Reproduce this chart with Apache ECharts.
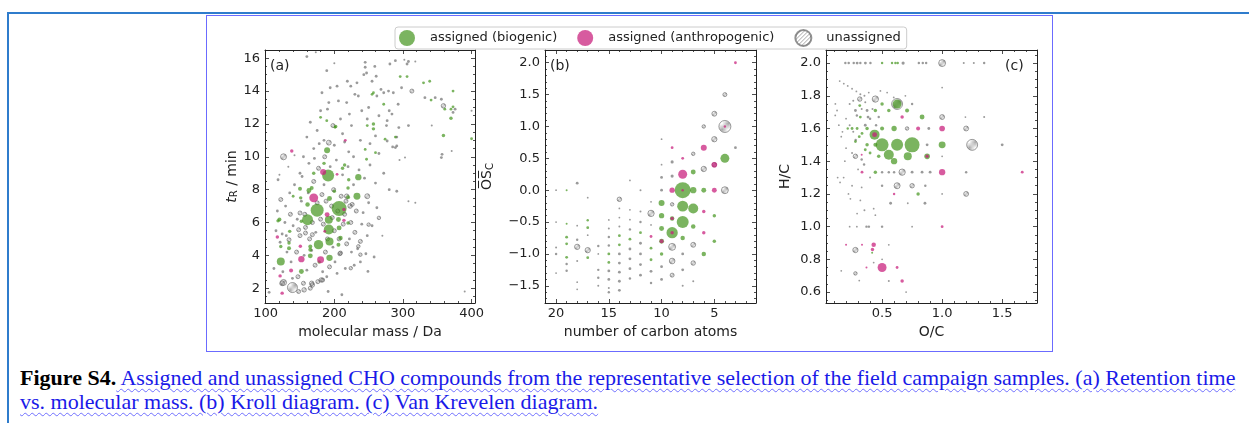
<!DOCTYPE html>
<html>
<head>
<meta charset="utf-8">
<script src="https://cdn.jsdelivr.net/npm/echarts@6.0.0/dist/echarts.min.js"></script>
<style>
  html, body { margin: 0; padding: 0; background: #fff; width: 1249px; height: 423px; overflow: hidden; }
  #page { position: absolute; left: 7px; top: 12px; width: 1260px; height: 430px;
          border-top: 2px solid #2f7ccc; border-left: 2px solid #2f7ccc; }
  #frame { position: absolute; left: 206px; top: 15px; width: 845px; height: 335px; border: 1px solid #6b6bff; }
  #chart { position: absolute; left: 208px; top: 17px; width: 843px; height: 333px; }
  #cap { position: absolute; left: 20px; top: 366px; font-family: "Liberation Serif", serif; font-size: 22px;
         line-height: 24px; white-space: nowrap; color: #000; }
  #cap .lk { color: #1a1ae8; text-decoration: underline wavy #6f6fff 1px; text-underline-offset: 3px; }
</style>
</head>
<body>
<div id="page"></div>
<div id="frame"></div>
<div id="chart"></div>
<div id="cap"><b>Figure S4.</b><span class="lk"> Assigned and unassigned CHO compounds from the representative selection of the field campaign samples. (a) Retention time</span><br><span class="lk">vs. molecular mass. (b) Kroll diagram. (c) Van Krevelen diagram.</span></div>
<script>
const catNames = ['assigned (biogenic)', 'assigned (anthropogenic)', 'unassigned'];

// (a) [molecular mass / Da, tR / min, relative abundance]
const aBio = [
  [207,6.85,56],[191,8.86,36],[175,6.75,42],[161,6.17,30],[192,5.57,25],[177,4.65,22],[193,4.85,16],[122,3.63,16],
  [233,7.6,12],[235,8.76,10],[189.5,10.4,9],[192,6.17,16],[193,3.85,10],[165,3.97,6],[152,3.02,6],[163,7.95,6],
  [161,7.1,5],[150,8.05,4],[193,7.46,6],[167,8.1,4],[206,6.18,6],[207,5.67,6],[206,4.65,4],[209,5.05,5],
  [220,5.97,3],[220,7.54,4],[220,8.1,3],[221,8.6,3],[120,6.18,4],[135,5.46,3],[134,4.75,3],[134,4.44,4],
  [122,4.54,3],[152,6.07,3],[151,7.5,3],[165,4.54,4],[165,4.34,4],[178,3.6,3],[189,12.2,2],[201,11.8,2],
  [257,12.0,3],[257,11.7,3],[260,10.25,2],[245,10.45,2],[247,9.85,2],[274,11.07,2],[289,11.2,2],[296,14.88,2],
  [306,14.88,2],[330,14.5,2],[339,14.6,2],[341,13.45,2],[361,12.9,2],[370,12.9,2],[370,12.35,3],[373,13.04,2],
  [373,14.0,2],[359,11.3,3],[400,11.1,2],[255,13.8,2],[272,13.2,2],[257,13.9,2],[202,11.84,3],[248,11.9,2],
  [180,12.4,2],[215,9.5,3],[185,9.6,3],[118,6.1,3],[140,7.6,2],[170,9.0,3],[212,9.3,3],[200,7.9,3]
];
const aAnth = [
  [170,7.5,20],[180,3.73,12],[152,3.77,10],[183.7,9.07,9],[189.5,6.48,6],[138,10.35,3],[117,5.12,3],[121,2.75,3],
  [137,3.08,4],[124,1.7,3],[150.5,4.55,3],[214,6.13,3],[214,6.79,3],[204,8.93,2],[216,11.0,2],[186,5.46,2]
];
const aUnas = [
  [139,2.04,25],[126,10.0,9],[126,2.35,9],[192,10.86,6],[248,7.6,6],[359,13.1,5],[313,14.0,4],[167,2.3,5],
  [156,1.9,5],[181,2.5,5],[158,5.36,4],[209,4.14,4],[235,4.55,3],[250,5.87,3],[218,7.6,5],[223,7.0,5],
  [150,6.58,4],[134,4.95,4],[148,5.56,4],[168,5.26,4],[224,3.22,3],[238,4.85,4],[238,4.04,3],[183,2.5,4],
  [168,2.2,5],[124,2.3,6],
  [105,1.75,2],[112,3.2,2],[115,5.5,2],[117,6.7,2],[118,8.6,2],[120,8.9,1],[122,7.4,4],[121,4.8,2],
  [125,3.0,2],[124,5.3,2],[128,6.0,2],[129,7.0,2],[130,5.2,2],[131,4.2,2],[133,9.4,1],[135,7.8,2],
  [136,6.5,4],[137,3.6,2],[139,2.6,2],[140,5.8,2],[142,8.3,2],[142,10.1,1],[145,4.2,4],[146,6.2,2],
  [147,2.7,4],[148,1.8,4],[150,5.2,4],[152,7.3,2],[153,8.8,2],[155,2.3,4],[156,4.0,2],[157,6.5,4],
  [158,5.7,4],[160,3.1,2],[162,7.8,2],[163,9.6,2],[164,5.0,4],[165,2.0,4],[167,4.3,2],[168,6.0,4],
  [170,8.5,4],[171,9.9,2],[172,3.4,4],[173,5.4,2],[175,7.2,4],[176,2.4,4],[177,9.3,4],[178,10.8,2],
  [180,6.2,4],[182,7.7,4],[183,3.0,2],[184,5.9,4],[185,8.3,2],[186,10.0,4],[187,4.2,4],[188,7.3,4],
  [189,2.7,2],[190,5.0,4],[191,1.8,2],[193,3.3,4],[194,9.4,2],[196,7.0,4],[197,6.3,4],[198,4.5,2],
  [199,8.0,4],[200,5.5,4],[201,3.6,2],[203,9.8,2],[204,2.9,2],[205,6.7,4],[207,5.0,4],[208,4.1,4],
  [210,7.6,4],[211,1.6,2],[212,8.9,2],[213,5.9,4],[215,6.5,4],[216,3.2,2],[217,7.3,4],[218,4.7,4],
  [220,9.4,2],[221,10.3,2],[222,5.0,2],[224,6.0,4],[225,4.2,2],[226,7.1,4],[228,8.3,2],[229,3.4,2],
  [230,5.4,4],[232,6.7,4],[234,4.4,2],[236,9.2,2],[238,3.6,2],[240,5.9,2],[242,6.6,2],[244,8.7,2],
  [246,4.1,2],[248,5.2,2],[250,7.2,2],[252,9.5,2],[255,5.8,2],[258,3.9,2],[260,8.4,2],[262,6.9,2],
  [265,10.2,2],[270,5.2,1],[272,9.0,2],[280,8.0,2],[285,10.6,2],[295,9.8,1],
  [150,9.0,2],[155,10.0,2],[160,11.2,2],[165,12.1,2],[170,10.5,2],[175,11.6,2],[180,12.8,2],[182,13.9,2],
  [185,11.0,2],[190,12.9,2],[192,13.3,2],[194,14.2,2],[198,11.9,4],[200,10.7,2],[204,14.3,2],[206,13.4,2],
  [209,12.3,2],[212,11.4,2],[215,10.9,2],[218,13.3,2],[219,14.6,2],[222,12.6,2],[224,14.3,2],[225,11.9,2],
  [228,10.0,2],[230,13.8,2],[233,14.5,2],[235,13.7,2],[238,11.0,2],[240,12.8,2],[243,15.0,2],[245,15.75,2],
  [245,15.45,2],[247,15.1,2],[248,12.3,2],[250,13.0,2],[252,10.8,2],[255,14.6,2],[259,15.5,2],[260,11.27,2],
  [262,13.7,2],[265,12.5,2],[268,14.1,2],[272,13.9,2],[276,11.9,2],[279,14.0,2],[280,12.8,2],[286,13.9,2],
  [289,15.85,2],[291,11.2,2],[291,10.66,2],[293,13.2,2],[306,15.65,2],[160,16.1,2],[173,16.36,1],[189,15.24,2],
  [200,15.7,1],[281,15.65,2],[302,15.9,1],[308,15.8,2],[318,15.8,1],[261,14.9,2],[298,14.2,2],[332,13.6,2],
  [347,13.6,2],[356,13.5,2],[376,12.9,2],[373,12.7,2],[284,12.6,2],[277,12.2,2],[294,11.78,2],[308,11.9,2],
  [342,11.9,1],[371,10.35,1],[356,9.95,2],[357,10.15,2],[303,9.95,1],[289,10.56,2],[277,10.96,2],[308,7.3,1],
  [318,7.2,1],[291,7.9,2],[265,6.28,3],[249,3.02,2],[390,1.8,1],[400,12.8,1]
];

// (b) [number of carbon atoms, mean carbon oxidation state, relative abundance]
const bBio = [
  [4,0.5,20],[5,-0.4,3],[5,-0.8,3],[6,0,6],[6,-1,5],[7,0.286,6],[7,0,10],[7,-0.286,25],[7,-0.571,5],
  [8,0,64],[8,-0.25,30],[8,-0.5,36],[8,-0.75,5],[9,-0.444,5],[9,-0.667,32],[10,-0.2,9],[10,-0.4,7],
  [10,-0.6,6],[10,-0.8,6],[10,-1.0,3],[11,-0.909,2],[11,-1.091,2],[12,-0.667,2],[13,-0.769,2],[14,-0.714,2],
  [14,-0.857,2],[15,-1.0,2],[15,-1.133,2],[17,-0.471,1.5],[17,-0.588,2],[17,-1.059,2],[19,0,1],[19,-0.526,1],
  [19,-0.737,2],[19,-0.842,2],[19,-1.053,2]
];
const bAnth = [
  [3,2.0,2],[4,1.0,1.5],[5,0.4,8],[5,0.0,6],[6,0.667,9],[6,-0.333,3],[6,-0.667,3],[8,0.5,2],[8,0.25,20],
  [8,0,1.5],[9,0.667,2],[9,0,7],[9,-0.444,3],[9,-0.667,3],[10,-0.8,4],[11,-0.727,2]
];
const bUnas = [
  [3,0.667,2],[4,1.5,4],[4,1.0,36],[4,0.0,12],[5,1.2,6],[5,0.8,7],[5,0.4,5],[6,1.0,3],[6,0.333,7],
  [7,0.571,3],[7,-0.857,6],[7,-1.143,5],[7,-1.429,1],[8,-1.0,2],[8,-1.25,2],[8,-1.5,1],[9,0.444,2.5],
  [9,0.222,2.5],[9,-0.222,3],[9,-0.889,12],[9,-1.111,8],[9,-1.333,4],[10,0.8,0.8],[10,0.4,0.8],[10,0.2,2],
  [10,0,2],[10,-1.2,2],[10,-1.4,2],[11,-0.182,0.8],[11,-0.364,10],[11,-0.545,0.8],[11,-1.273,2],[11,-1.455,1.5],
  [12,0,1],[12,-0.333,1],[12,-0.5,1.5],[12,-0.833,2],[12,-1.0,2],[12,-1.167,2],[12,-1.333,2],[13,0.154,0.8],
  [13,-0.308,0.8],[13,-0.462,0.8],[13,-0.615,1.5],[13,-0.923,2],[13,-1.077,2],[13,-1.231,2],[13,-1.385,1.5],
  [14,-0.143,5],[14,-0.286,0.8],[14,-0.429,0.8],[14,-0.571,1],[14,-1.0,2],[14,-1.143,2],[14,-1.286,2],
  [14,-1.429,2],[14,-1.571,2],[15,-0.467,0.8],[15,-0.6,1],[15,-0.733,1.5],[15,-0.867,1.5],[15,-1.267,2],
  [15,-1.4,2],[15,-1.533,1],[15,-1.6,1.5],[16,-0.875,1.5],[16,-1.0,0.8],[16,-1.25,1.5],[16,-1.375,1.5],
  [16,-1.5,1],[17,-0.118,0.8],[17,-0.706,0.8],[17,-0.941,7],[18,0.111,2],[18,-0.556,0.8],[18,-0.778,1.5],
  [18,-0.889,7],[18,-1.111,1],[18,-1.444,0.8],[18,-1.556,0.8],[19,-1.158,1.5],[19,-1.263,1.5],[20,0,0.8],
  [20,-0.5,0.8],[20,-0.9,1],[20,-1.0,1.5],[20,-1.3,0.8]
];

// (c) [O/C, H/C, relative abundance]
const cBio = [
  [0.5,2.0,1.5],[0.583,2.0,1.5],[0.611,2.0,1.5],[0.63,2.0,1.5],[0.5,1.75,3],[0.625,1.75,20],[0.314,1.74,2],
  [0.444,1.71,3],[0.556,1.71,3],[0.708,1.71,4],[0.319,1.67,2],[0.833,1.67,6],[0.214,1.6,1.5],[0.25,1.6,2],
  [0.292,1.6,2],[0.375,1.6,3],[0.4375,1.5625,25],[0.5,1.6,4],[0.6,1.6,7],[0.5,1.5,42],[0.625,1.5,36],
  [0.75,1.5,56],[0.375,1.5,3],[0.444,1.5,4],[1.0,1.5,12],[0.278,1.52,2],[0.31,1.55,2],[0.333,1.57,2],
  [0.556,1.44,25],[0.6,1.4,10],[0.714,1.43,16],[0.875,1.43,8],[0.472,1.43,3],[0.444,1.333,3],[0.8,1.2,3],
  [0.417,0.84,1],[0.4,1.45,2],[0.36,1.47,2]
];
const cAnth = [
  [0.4375,1.5625,6],[0.667,1.67,3],[0.8,1.6,4],[1.0,1.6,8],[0.875,1.43,3],[0.333,1.333,2],[1.0,1.333,10],
  [1.667,1.333,2],[0.6,1.2,1.5],[1.0,1.0,2],[0.2,0.889,1],[0.333,0.889,1],[0.43,0.889,5],[0.42,0.86,3],
  [0.5,0.75,20],[0.37,0.75,1],[0.625,0.75,2],[0.667,0.667,3],[0.33,1.44,1]
];
const cUnas = [
  [0.194,2,1.5],[0.222,2,1.5],[0.264,2,1.5],[0.292,2,2],[0.319,2,1.5],[0.361,2,2],[0.403,2,1.5],[0.675,2,2.5],
  [0.806,2,1.5],[0.839,2,1.5],[0.867,2,1.5],[1.0,2.0,12],[1.18,2,1],[1.264,2,1],[1.35,2,1.5],[1.0,1.85,0.8],
  [0.147,1.89,0.8],[0.181,1.874,0.8],[0.214,1.86,0.8],[0.25,1.843,0.8],[0.286,1.827,0.8],[0.319,1.81,1],
  [0.353,1.8,1],[0.389,1.82,0.8],[0.444,1.78,10],[0.486,1.83,0.8],[0.542,1.82,0.8],[0.597,1.79,0.8],
  [0.694,1.8,0.8],[0.314,1.78,5],[0.625,1.75,30],[0.75,1.75,1.5],[0.111,1.75,0.8],[0.23,1.75,1],
  [0.278,1.71,2],[0.375,1.71,2],[0.125,1.71,0.8],[0.383,1.67,2],[0.472,1.67,1.5],[1.0,1.67,6],[1.194,1.67,0.8],
  [1.35,1.67,1],[0.708,1.6,3],[0.889,1.6,2],[1.2,1.6,6],[0.875,1.5,2],[1.25,1.5,30],[1.5,1.5,2],
  [0.278,1.43,5],[0.33,1.41,1.5],[1.0,1.43,0.8],[0.5,1.333,1.5],[0.556,1.333,1.5],[0.6,1.333,1.5],
  [0.667,1.333,10],[0.75,1.333,2],[0.833,1.333,2],[0.9,1.333,2],[1.2,1.333,1.5],[0.5,1.25,1.5],[0.625,1.25,9],
  [0.75,1.25,5],[0.86,1.25,1.5],[1.0,1.2,0.8],[1.2,1.2,6],[0.571,1.143,2],[0.714,1.143,0.8],[0.857,1.143,2],
  [0.13,1.3,0.8],[0.15,1.27,0.8],[0.18,1.3,0.8],[0.236,1.17,0.8],[0.319,1.16,0.8],[0.292,1.08,0.8],
  [0.353,1.1,1],[0.43,1.11,0.8],[0.444,1.07,0.8],[0.23,1.0,0.8],[0.29,1.0,0.8],[0.37,1.0,1.5],[0.39,1.0,1.5],
  [0.5,1.0,1.5],[0.75,1.0,0.8],[0.278,0.857,7],[0.556,0.889,0.8],[0.43,0.78,0.8],[0.278,0.714,3],
  [0.31,0.67,0.8],[0.556,0.667,1],[0.7,0.6,0.8],[0.16,0.73,0.8],[0.5,0.8,0.8],
  [0.11,1.68,0.8],[0.14,1.62,0.8],[0.17,1.58,0.8],[0.2,1.66,0.8],[0.23,1.62,1],[0.26,1.58,1],[0.16,1.55,0.8],
  [0.2,1.48,0.8],[0.28,1.53,1.5],[0.25,1.45,1],[0.35,1.38,1.5],[0.19,1.4,0.8],[0.3,1.35,0.8],[0.25,1.25,0.8],
  [0.33,1.24,0.8],[0.4,1.3,1],[0.22,1.2,0.8],[0.36,1.62,2],[0.4,1.66,1.5],[0.29,1.68,1.5],[0.33,1.72,1],
  [0.26,1.77,1],[0.36,1.76,1],[0.42,1.72,1],[0.45,1.62,1.5]
];

// tick labels
const aXTicks = [100, 200, 300, 400];
const aYTicks = [2, 4, 6, 8, 10, 12, 14, 16];
const bXTicks = [5, 10, 15, 20];
const bYTicks = [-1.5, -1.0, -0.5, 0.0, 0.5, 1.0, 1.5, 2.0];
const cXTicks = [0.5, 1.0, 1.5];
const cYTicks = [0.6, 0.8, 1.0, 1.2, 1.4, 1.6, 1.8, 2.0];

const FONT = 'DejaVu Sans';
const INK = '#222';
const GREY = 'rgba(115,115,115,0.9)';

// hatch for the unassigned markers
const hatch = document.createElement('canvas');
hatch.width = 4; hatch.height = 4;
(function () {
  const c = hatch.getContext('2d');
  c.strokeStyle = 'rgba(100,100,100,0.9)';
  c.lineWidth = 0.8;
  c.beginPath();
  c.moveTo(0, 4); c.lineTo(4, 0);
  c.moveTo(-1, 1); c.lineTo(1, -1);
  c.moveTo(3, 5); c.lineTo(5, 3);
  c.stroke();
})();

function minors (lo, hi, step, majors) {
  const out = [];
  for (let i = Math.ceil(lo / step - 1e-9); i * step <= hi + 1e-9; i++) {
    const v = +(i * step).toFixed(6);
    if (!majors.some(m => Math.abs(m - v) < 1e-6)) out.push(v);
  }
  return out;
}

const num1 = v => (Math.abs(v) < 1e-9 ? '0.0' : v.toFixed(1).replace('-', '\u2212'));
const int0 = v => String(Math.round(v));

const panels = [
  {
    grid: { left: 57, top: 33, width: 210, height: 253 },
    x: { min: 99, max: 405, ticks: aXTicks, step: 20, fmt: int0, name: 'molecular mass / Da', gap: 19 },
    y: { min: 1.1, max: 16.5, ticks: aYTicks, step: 0.5, fmt: int0, name: '{i|t}{s|R}{n| / min}', gap: 23 },
    data: [aUnas, aBio, aAnth]
  },
  {
    grid: { left: 337, top: 33, width: 211, height: 253 },
    x: { min: 1.05, max: 21.05, inverse: true, ticks: bXTicks, step: 1, fmt: int0, name: 'number of carbon atoms', gap: 19 },
    y: { min: -1.77, max: 2.2, ticks: bYTicks, step: 0.1, fmt: num1, name: '{n|O\u0305S\u0305}{s|C}', gap: 50 },
    data: [bUnas, bBio, bAnth]
  },
  {
    grid: { left: 618, top: 33, width: 211, height: 253 },
    x: { min: 0.033, max: 1.79, ticks: cXTicks, step: 0.1, fmt: num1, name: 'O/C', gap: 19 },
    y: { min: 0.533, max: 2.08, ticks: cYTicks, step: 0.05, fmt: num1, name: 'H/C', gap: 34 },
    data: [cUnas, cBio, cAnth]
  }
];

const nameRich = {
  n: { fontSize: 14, fontFamily: FONT, color: INK },
  i: { fontSize: 14, fontFamily: FONT, color: INK, fontStyle: 'italic' },
  s: { fontSize: 10, fontFamily: FONT, color: INK, verticalAlign: 'bottom', padding: [5, 0, 0, 0] }
};

function axisSet (dim, g, spec) {
  const sides = dim === 'x' ? ['bottom', 'top'] : ['left', 'right'];
  const minorVals = minors(spec.min, spec.max, spec.step, spec.ticks);
  const out = [];
  sides.forEach((pos, si) => {
    [true, false].forEach(major => {
      const main = major && si === 0;
      const ax = {
        type: 'value', gridIndex: g, position: pos, offset: 0,
        min: spec.min, max: spec.max, inverse: !!spec.inverse,
        axisLine: { show: major, onZero: false, lineStyle: { color: INK, width: 1 } },
        axisTick: { show: true, inside: true, length: major ? 4 : 2,
          customValues: major ? spec.ticks : minorVals, lineStyle: { color: INK, width: 0.8 } },
        axisLabel: { show: main, customValues: spec.ticks, formatter: spec.fmt,
          fontSize: 13, fontFamily: FONT, color: INK, margin: dim === 'x' ? 4 : 5 },
        splitLine: { show: false },
        z: major ? 3 : 2
      };
      if (main) {
        ax.name = spec.name;
        ax.nameLocation = 'middle';
        ax.nameGap = spec.gap;
        ax.nameTextStyle = { fontSize: 14, fontFamily: FONT, color: INK, rich: nameRich };
        if (dim === 'y') ax.nameRotate = 90;
      }
      out.push(ax);
    });
  });
  return out;
}

const styles = [
  { color: { image: hatch, repeat: 'repeat' }, borderColor: 'rgba(95,95,95,0.85)', borderWidth: 0.9 },
  { color: 'rgba(62,146,24,0.86)' },
  { color: 'rgba(200,28,122,0.9)' }
];
const seriesNames = [catNames[2], catNames[0], catNames[1]];

// tiny unassigned markers read as solid grey dots
const toItems = (d, k) => d.map(v => (k === 0 && v[2] <= 2.5)
  ? { value: v, itemStyle: { color: GREY, borderWidth: 0 } }
  : { value: v });

const grids = [], xAxes = [], yAxes = [], series = [];
panels.forEach((p, g) => {
  grids.push(p.grid);
  xAxes.push(...axisSet('x', g, p.x));
  yAxes.push(...axisSet('y', g, p.y));
  p.data.forEach((d, k) => {
    series.push({
      type: 'scatter', name: seriesNames[k], xAxisIndex: g * 4, yAxisIndex: g * 4,
      data: toItems(d, k), symbol: 'circle', symbolSize: v => 2 * Math.sqrt(v[2]),
      itemStyle: styles[k], silent: true, z: 2 + k
    });
  });
});

const chart = echarts.init(document.getElementById('chart'), null, { renderer: 'canvas' });
chart.setOption({
  animation: false,
  backgroundColor: '#fff',
  textStyle: { fontFamily: FONT },
  legend: {
    data: catNames, left: 187, top: 10, orient: 'horizontal', icon: 'circle',
    itemWidth: 36, itemHeight: 16, itemGap: 20, padding: [2, 6, 2, 4],
    backgroundColor: '#fff', borderColor: '#cccccc', borderWidth: 1, borderRadius: 3,
    textStyle: { fontSize: 13, fontFamily: FONT, color: INK }, selectedMode: false
  },
  grid: grids,
  xAxis: xAxes,
  yAxis: yAxes,
  series: series,
  graphic: [
    { type: 'text', left: 62, top: 42, style: { text: '(a)', font: '14px "DejaVu Sans"', fill: INK } },
    { type: 'text', left: 342, top: 42, style: { text: '(b)', font: '14px "DejaVu Sans"', fill: INK } },
    { type: 'text', left: 797, top: 42, style: { text: '(c)', font: '14px "DejaVu Sans"', fill: INK } }
  ]
});
</script>
</body>
</html>
